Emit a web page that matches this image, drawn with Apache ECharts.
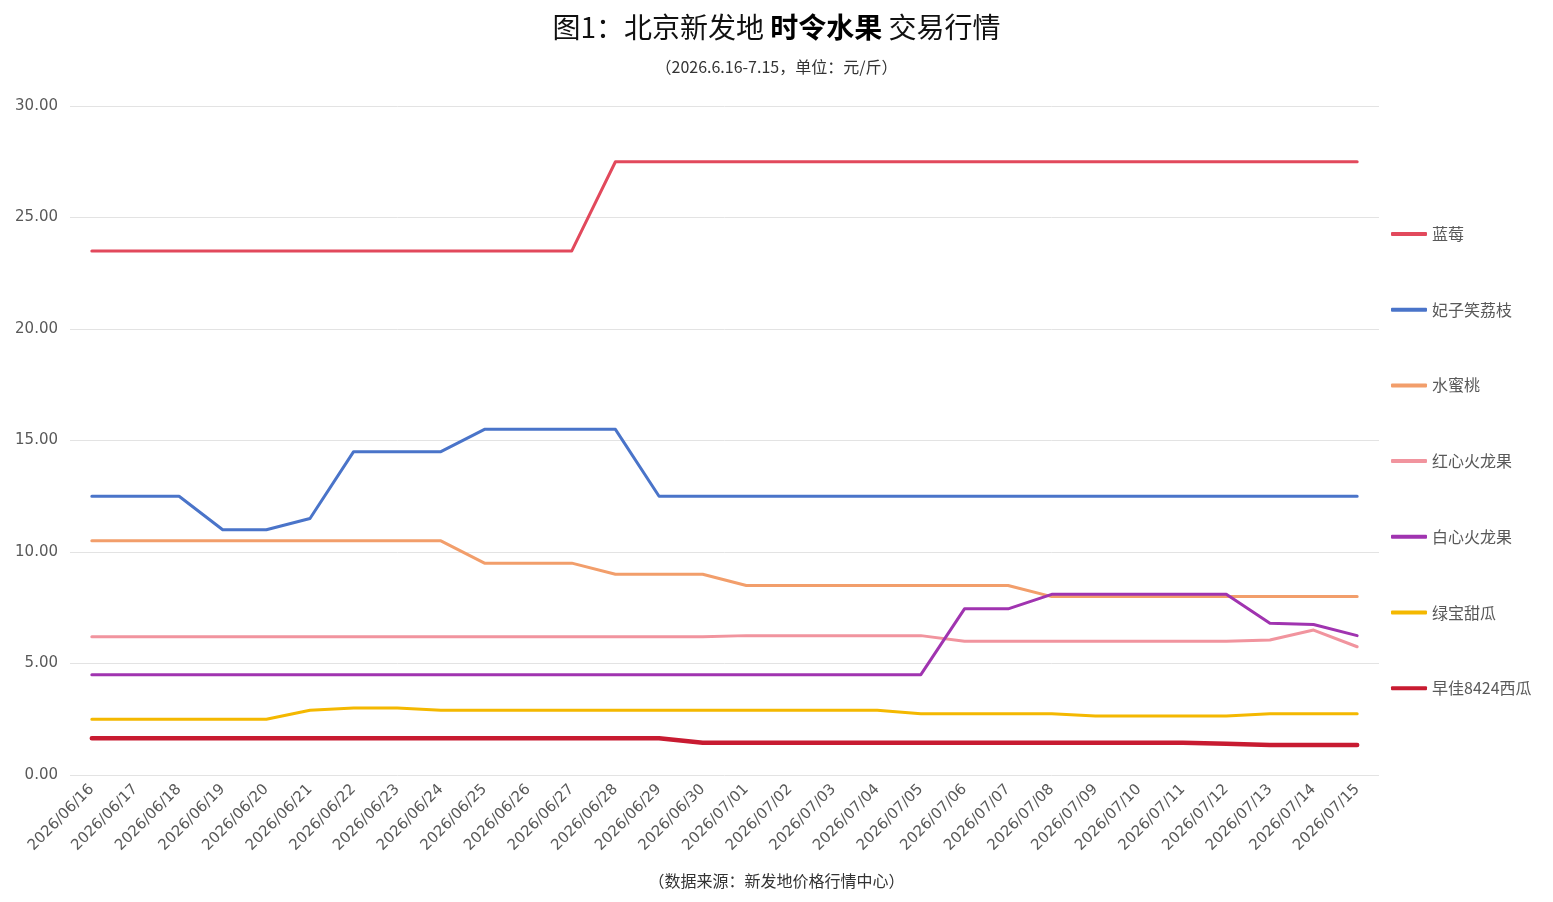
<!DOCTYPE html>
<html>
<head>
<meta charset="utf-8">
<script src="https://cdn.jsdelivr.net/npm/echarts@6/dist/echarts.min.js"></script>
<style>
  html, body { margin: 0; padding: 0; background: #fff; }
  #chart { width: 1553px; height: 902px; }
</style>
</head>
<body>
<div id="chart"></div>
<script>
const dates = [
  '2026/06/16', '2026/06/17', '2026/06/18', '2026/06/19', '2026/06/20', '2026/06/21',
  '2026/06/22', '2026/06/23', '2026/06/24', '2026/06/25', '2026/06/26', '2026/06/27',
  '2026/06/28', '2026/06/29', '2026/06/30', '2026/07/01', '2026/07/02', '2026/07/03',
  '2026/07/04', '2026/07/05', '2026/07/06', '2026/07/07', '2026/07/08', '2026/07/09',
  '2026/07/10', '2026/07/11', '2026/07/12', '2026/07/13', '2026/07/14', '2026/07/15'
]

// 元/斤
const blueberry = [23.5, 23.5, 23.5, 23.5, 23.5, 23.5, 23.5, 23.5, 23.5, 23.5, 23.5, 23.5,
  27.5, 27.5, 27.5, 27.5, 27.5, 27.5, 27.5, 27.5, 27.5, 27.5, 27.5, 27.5, 27.5, 27.5, 27.5, 27.5, 27.5, 27.5]
const lychee = [12.5, 12.5, 12.5, 11, 11, 11.5, 14.5, 14.5, 14.5, 15.5, 15.5, 15.5,
  15.5, 12.5, 12.5, 12.5, 12.5, 12.5, 12.5, 12.5, 12.5, 12.5, 12.5, 12.5, 12.5, 12.5, 12.5, 12.5, 12.5, 12.5]
const peach = [10.5, 10.5, 10.5, 10.5, 10.5, 10.5, 10.5, 10.5, 10.5, 9.5, 9.5, 9.5,
  9, 9, 9, 8.5, 8.5, 8.5, 8.5, 8.5, 8.5, 8.5, 8, 8, 8, 8, 8, 8, 8, 8]
const redPitaya = [6.2, 6.2, 6.2, 6.2, 6.2, 6.2, 6.2, 6.2, 6.2, 6.2, 6.2, 6.2,
  6.2, 6.2, 6.2, 6.25, 6.25, 6.25, 6.25, 6.25, 6, 6, 6, 6, 6, 6, 6, 6.05, 6.5, 5.75]
const whitePitaya = [4.5, 4.5, 4.5, 4.5, 4.5, 4.5, 4.5, 4.5, 4.5, 4.5, 4.5, 4.5,
  4.5, 4.5, 4.5, 4.5, 4.5, 4.5, 4.5, 4.5, 7.45, 7.45, 8.1, 8.1, 8.1, 8.1, 8.1, 6.8, 6.75, 6.25]
const melon = [2.5, 2.5, 2.5, 2.5, 2.5, 2.9, 3, 3, 2.9, 2.9, 2.9, 2.9,
  2.9, 2.9, 2.9, 2.9, 2.9, 2.9, 2.9, 2.75, 2.75, 2.75, 2.75, 2.65, 2.65, 2.65, 2.65, 2.75, 2.75, 2.75]
const watermelon = [1.65, 1.65, 1.65, 1.65, 1.65, 1.65, 1.65, 1.65, 1.65, 1.65, 1.65, 1.65,
  1.65, 1.65, 1.45, 1.45, 1.45, 1.45, 1.45, 1.45, 1.45, 1.45, 1.45, 1.45, 1.45, 1.45, 1.4, 1.35, 1.35, 1.35]

const seriesList = [
  { name: '蓝莓', data: blueberry, color: '#e2495c', width: 3 },
  { name: '妃子笑荔枝', data: lychee, color: '#4a74c9', width: 3 },
  { name: '水蜜桃', data: peach, color: '#f29e6b', width: 3 },
  { name: '红心火龙果', data: redPitaya, color: '#f1949e', width: 3 },
  { name: '白心火龙果', data: whitePitaya, color: '#a034b0', width: 3 },
  { name: '绿宝甜瓜', data: melon, color: '#f4b800', width: 3 },
  { name: '早佳8424西瓜', data: watermelon, color: '#c81b31', width: 4.5 }
]

const chart = echarts.init(document.getElementById('chart'))
chart.setOption({
  animation: false,
  textStyle: { fontFamily: '"Noto Sans CJK SC", "Noto Sans", sans-serif' },
  title: [
    {
      left: 'center',
      top: 8,
      text: '图1：北京新发地 {b|时令水果} 交易行情',
      textStyle: {
        fontSize: 28,
        fontWeight: 'normal',
        color: '#111',
        rich: {
          b: { fontSize: 28, fontWeight: 'bold', color: '#000' }
        }
      }
    },
    {
      left: 'center',
      top: 54,
      text: '（2026.6.16-7.15，单位：元/斤）',
      textStyle: { fontSize: 16, fontWeight: 'normal', color: '#333' }
    },
    {
      left: 'center',
      top: 868,
      text: '（数据来源：新发地价格行情中心）',
      textStyle: { fontSize: 16, fontWeight: 'normal', color: '#333' }
    }
  ],
  legend: {
    orient: 'vertical',
    left: 1386,
    top: 219,
    icon: 'roundRect',
    itemWidth: 36,
    itemHeight: 4,
    itemGap: 55.7,
    textStyle: { fontSize: 16, color: '#595959', lineHeight: 20 },
    data: seriesList.map(s => s.name)
  },
  grid: {
    left: 70,
    right: 174,
    top: 106,
    bottom: 127
  },
  xAxis: {
    type: 'category',
    data: dates,
    boundaryGap: true,
    axisLine: { show: false },
    axisTick: { show: false },
    axisLabel: {
      rotate: 45,
      fontSize: 15,
      fontFamily: '"DejaVu Sans", sans-serif',
      color: '#595959',
      interval: 0,
      margin: 12
    }
  },
  yAxis: {
    type: 'value',
    min: 0,
    max: 30,
    interval: 5,
    axisLine: { show: false },
    axisTick: { show: false },
    splitLine: { lineStyle: { color: '#e3e3e3', width: 1 } },
    axisLabel: {
      fontSize: 15,
      fontFamily: '"DejaVu Sans", sans-serif',
      color: '#595959',
      margin: 12,
      formatter: v => v.toFixed(2)
    }
  },
  series: seriesList.map(s => ({
    name: s.name,
    type: 'line',
    data: s.data,
    symbol: 'none',
    color: s.color,
    lineStyle: { color: s.color, width: s.width, cap: 'round', join: 'round' }
  }))
})
</script>
</body>
</html>
